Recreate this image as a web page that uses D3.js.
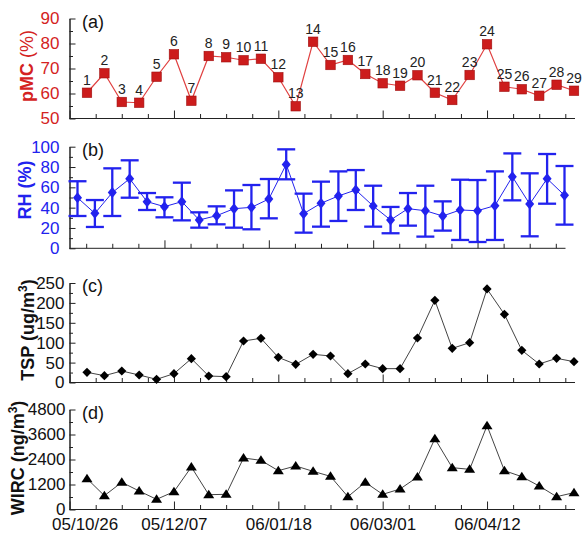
<!DOCTYPE html>
<html>
<head>
<meta charset="utf-8">
<script src="https://cdn.jsdelivr.net/npm/d3@7"></script>
<style>
  body { margin: 0; background: #fff; }
  text { font-family: "Liberation Sans", Arial, sans-serif; }
</style>
</head>
<body>
<div id="chart"></div>
<script>
// weekly sampling dates (yy/mm/dd)
const sampleDates = ["05/11/02","05/11/09","05/11/16","05/11/23","05/11/30","05/12/07","05/12/14",
  "05/12/21","05/12/28","06/01/04","06/01/11","06/01/18","06/01/25","06/02/01","06/02/08","06/02/15",
  "06/02/22","06/03/01","06/03/08","06/03/15","06/03/22","06/03/29","06/04/05","06/04/12","06/04/19",
  "06/04/26","06/05/03","06/05/10","06/05/17"];
const sampleIds = ["1","2","3","4","5","6","7","8","9","10","11","12","13","14","15","16","17","18",
  "19","20","21","22","23","24","25","26","27","28","29"];

// (a) pMC (%)
const pmc = [60.3, 68.1, 56.6, 56.3, 66.7, 75.7, 57.1, 75.0, 74.5, 73.3, 73.9, 66.5, 54.9, 80.7, 71.4,
  73.4, 67.8, 64.1, 63.1, 67.3, 60.3, 57.4, 67.4, 79.7, 62.7, 61.7, 59.1, 63.5, 61.1];
// (b) RH (%) mean, upper and lower error bar ends
const rh = [49.8, 34.4, 54.8, 68.5, 45.9, 41.0, 45.9, 27.9, 32.1, 39.0, 40.3, 48.5, 82.6, 34.1, 44.3,
  51.5, 57.4, 41.6, 27.9, 39.0, 37.0, 31.8, 37.7, 37.0, 42.0, 70.5, 43.6, 68.5, 52.1];
const rhHigh = [66.0, 47.5, 78.7, 86.6, 54.4, 50.2, 64.6, 35.4, 41.3, 57.0, 62.3, 68.2, 97.4, 53.8, 65.6,
  75.7, 77.0, 61.6, 40.7, 54.4, 61.6, 46.2, 67.5, 67.2, 75.7, 93.4, 73.8, 92.8, 81.0];
const rhLow = [31.8, 21.0, 31.8, 49.8, 37.7, 30.5, 27.5, 20.3, 23.6, 20.3, 18.7, 29.5, 67.9, 15.4, 21.3,
  26.9, 37.7, 21.3, 14.8, 22.3, 11.5, 17.4, 8.2, 6.2, 8.2, 47.2, 11.8, 43.9, 23.3];
// (c) TSP (ug/m3)
const tsp = [25.5, 17.2, 28.9, 18.8, 8.0, 22.2, 59.9, 16.3, 14.7, 104.3, 111.0, 63.2, 45.6, 70.8, 66.6,
  22.2, 46.5, 34.8, 34.8, 111.8, 206.4, 85.8, 100.0, 235.0, 171.3, 80.8, 46.5, 60.7, 52.3];
// (d) WIRC (ng/m3)
const wirc = [1480, 664, 1304, 888, 488, 856, 2040, 712, 728, 2472, 2360, 1864, 2090, 1832, 1592,
  616, 1304, 728, 984, 1560, 3400, 2008, 1928, 4024, 1864, 1576, 1128, 616, 808];

const dateLabels = ["05/10/26", "05/12/07", "06/01/18", "06/03/01", "06/04/12"];
const axisEnd = "06/05/17";

const pmcTicks = [50, 60, 70, 80, 90];
const rhTicks = [0, 20, 40, 60, 80, 100];
const tspTicks = [0, 50, 100, 150, 200, 250];
const wircTicks = [0, 1200, 2400, 3600, 4800];

// canvas
const width = 582, height = 534;
const svg = d3.select("#chart").append("svg")
    .attr("width", width)
    .attr("height", height);

const parse = d3.utcParse("%y/%m/%d");
const dates = sampleDates.map(parse);
const day = 864e5;

const x = d3.scaleUtc()
    .domain([parse(dateLabels[0]), parse(axisEnd)])
    .range([69.6, 574]);

const majorTicks = dateLabels.map(parse);
const minorTicks = [];
majorTicks.forEach(d => {
    for (let k = 1; k < 4; k++) minorTicks.push(new Date(+d + k * 10.5 * day));
});

const RED = "#d42222", BLUE = "#2222ee", AXIS = "#222";
const axisLeftX = 69.5;

function panel(cfg) {
    const g = svg.append("g");
    const y = d3.scaleLinear().domain(cfg.domain).range([cfg.bottom, cfg.top]);
    const xs = x.copy().range(x.range().map(v => v + cfg.shift));
    const xEnd = xs.range()[1];
    const inView = d => xs(d) >= axisLeftX - 0.5 && xs(d) <= xEnd + 0.5;

    // x axis (ticks point inward)
    g.append("g")
        .attr("transform", "translate(0," + cfg.bottom + ")")
        .call(d3.axisBottom(xs).tickValues(minorTicks.filter(inView))
            .tickSizeInner(-4.5).tickSizeOuter(0).tickFormat(""))
        .call(a => a.select(".domain").remove());
    const xMajor = g.append("g")
        .attr("transform", "translate(0," + cfg.bottom + ")")
        .call(d3.axisBottom(xs).tickValues(majorTicks.filter(inView))
            .tickSizeInner(-8).tickSizeOuter(0).tickPadding(8)
            .tickFormat(cfg.dateLabels ? d3.utcFormat("%y/%m/%d") : ""))
        .call(a => a.select(".domain").remove());
    xMajor.selectAll("text").style("font-size", "17px").attr("fill", "#111")
        .attr("dx", (d, i) => i === 0 ? 15 : 0);
    g.append("line")
        .attr("x1", axisLeftX).attr("x2", xEnd + 1)
        .attr("y1", cfg.bottom).attr("y2", cfg.bottom)
        .attr("stroke", AXIS);

    // y axis
    g.append("g")
        .attr("transform", "translate(" + axisLeftX + ",0)")
        .call(d3.axisLeft(y).tickValues(cfg.minor).tickSizeInner(-3.5).tickSizeOuter(0).tickFormat(""));
    g.append("g")
        .attr("transform", "translate(" + axisLeftX + ",0)")
        .call(d3.axisLeft(y).tickValues(cfg.ticks).tickSizeInner(-6).tickSizeOuter(0)
            .tickPadding(cfg.pad).tickFormat(d3.format("d")))
        .call(a => a.selectAll("text").attr("fill", cfg.color).style("font-size", "17px"));
    g.selectAll(".tick line").attr("stroke", AXIS);
    g.selectAll(".domain").attr("stroke", AXIS);

    // panel letter
    g.append("text")
        .attr("x", 82).attr("y", cfg.top + 9)
        .style("font-size", "18px")
        .attr("fill", "#111")
        .text(cfg.letter);

    return { g, xs, y };
}

// (a) pMC
const pa = panel({ domain: [50, 90], top: 18.5, bottom: 118.5, shift: 0, ticks: pmcTicks,
    minor: [55, 65, 75, 85], pad: 10, color: RED, letter: "(a)" });
pa.g.append("path")
    .datum(pmc)
    .attr("fill", "none").attr("stroke", "#e04040").attr("stroke-width", 1.2)
    .attr("d", d3.line().x((d, i) => pa.xs(dates[i])).y(d => pa.y(d)));
pa.g.selectAll("rect.pt")
    .data(pmc)
    .enter()
    .append("rect")
    .attr("class", "pt")
    .attr("x", (d, i) => pa.xs(dates[i]) - 4.75)
    .attr("y", d => pa.y(d) - 4.75)
    .attr("width", 9.5).attr("height", 9.5)
    .attr("fill", "#cc1c1c").attr("stroke", "#a01010").attr("stroke-width", 0.6);
pa.g.selectAll("text.id")
    .data(pmc)
    .enter()
    .append("text")
    .attr("class", "id")
    .attr("x", (d, i) => pa.xs(dates[i]))
    .attr("y", d => pa.y(d) - 8)
    .attr("text-anchor", "middle")
    .style("font-size", "14px")
    .attr("fill", "#222")
    .text((d, i) => sampleIds[i]);

// (b) RH with error bars
const pb = panel({ domain: [0, 100], top: 146.7, bottom: 248.3, shift: -9.5, ticks: rhTicks,
    minor: [10, 30, 50, 70, 90], pad: 10, color: BLUE, letter: "(b)" });
const bars = pb.g.selectAll("g.err")
    .data(rh)
    .enter()
    .append("g")
    .attr("class", "err")
    .attr("stroke", BLUE).attr("stroke-width", 2.3);
bars.append("line")
    .attr("x1", (d, i) => pb.xs(dates[i])).attr("x2", (d, i) => pb.xs(dates[i]))
    .attr("y1", (d, i) => pb.y(rhHigh[i])).attr("y2", (d, i) => pb.y(rhLow[i]));
bars.append("line")
    .attr("x1", (d, i) => pb.xs(dates[i]) - 9).attr("x2", (d, i) => pb.xs(dates[i]) + 9)
    .attr("y1", (d, i) => pb.y(rhHigh[i])).attr("y2", (d, i) => pb.y(rhHigh[i]));
bars.append("line")
    .attr("x1", (d, i) => pb.xs(dates[i]) - 9).attr("x2", (d, i) => pb.xs(dates[i]) + 9)
    .attr("y1", (d, i) => pb.y(rhLow[i])).attr("y2", (d, i) => pb.y(rhLow[i]));
pb.g.append("path")
    .datum(rh)
    .attr("fill", "none").attr("stroke", BLUE).attr("stroke-width", 1)
    .attr("d", d3.line().x((d, i) => pb.xs(dates[i])).y(d => pb.y(d)));
pb.g.selectAll("path.pt")
    .data(rh)
    .enter()
    .append("path")
    .attr("class", "pt")
    .attr("transform", (d, i) => "translate(" + pb.xs(dates[i]) + "," + pb.y(d) + ")")
    .attr("d", "M0,-5.5L4.5,0L0,5.5L-4.5,0Z")
    .attr("fill", BLUE);

// (c) TSP
const pc = panel({ domain: [0, 250], top: 283, bottom: 382.5, shift: 0, ticks: tspTicks,
    minor: [25, 75, 125, 175, 225], pad: 5, color: "#111", letter: "(c)" });
pc.g.append("path")
    .datum(tsp)
    .attr("fill", "none").attr("stroke", "#444").attr("stroke-width", 1)
    .attr("d", d3.line().x((d, i) => pc.xs(dates[i])).y(d => pc.y(d)));
pc.g.selectAll("path.pt")
    .data(tsp)
    .enter()
    .append("path")
    .attr("class", "pt")
    .attr("transform", (d, i) => "translate(" + pc.xs(dates[i]) + "," + pc.y(d) + ")")
    .attr("d", "M0,-4.6L4.6,0L0,4.6L-4.6,0Z")
    .attr("fill", "#000");

// (d) WIRC
const pd = panel({ domain: [0, 4800], top: 409.5, bottom: 509.5, shift: 0, ticks: wircTicks,
    minor: [600, 1800, 3000, 4200], pad: 4, color: "#111", letter: "(d)", dateLabels: true });
pd.g.append("path")
    .datum(wirc)
    .attr("fill", "none").attr("stroke", "#444").attr("stroke-width", 1)
    .attr("d", d3.line().x((d, i) => pd.xs(dates[i])).y(d => pd.y(d)));
pd.g.selectAll("path.pt")
    .data(wirc)
    .enter()
    .append("path")
    .attr("class", "pt")
    .attr("transform", (d, i) => "translate(" + pd.xs(dates[i]) + "," + pd.y(d) + ")")
    .attr("d", "M0,-5L5.5,3.5L-5.5,3.5Z")
    .attr("fill", "#000");

// y axis titles
function yTitle(bx, cy, color, parts) {
    const t = svg.append("text")
        .attr("transform", "translate(" + bx + "," + cy + ") rotate(-90)")
        .attr("text-anchor", "middle")
        .attr("fill", color)
        .style("font-size", "18px")
        .style("font-weight", "bold");
    parts.forEach(p => {
        const s = t.append("tspan").text(p.t);
        if (p.w) s.style("font-weight", p.w);
        if (p.sup) s.attr("dy", -7).style("font-size", "12px");
        if (p.down) s.attr("dy", 7);
    });
}
yTitle(33, 66, RED, [{ t: "pMC " }, { t: "(%)", w: "normal" }]);
yTitle(31, 190, BLUE, [{ t: "RH (%)" }]);
yTitle(33.5, 330, "#111", [{ t: "TSP (ug/m" }, { t: "3", sup: true }, { t: ")", down: true }]);
yTitle(24, 458, "#111", [{ t: "WIRC (ng/m" }, { t: "3", sup: true }, { t: ")", down: true }]);
</script>
</body>
</html>
